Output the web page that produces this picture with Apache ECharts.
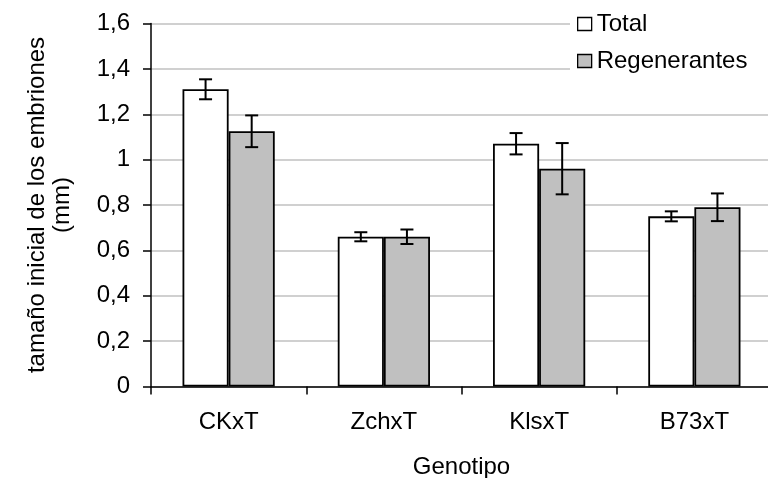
<!DOCTYPE html>
<html>
<head>
<meta charset="utf-8">
<script src="https://cdn.jsdelivr.net/npm/echarts@6/dist/echarts.min.js"></script>
<style>
  html, body { margin: 0; padding: 0; background: #fff; }
  #chart { width: 768px; height: 478px; }
</style>
</head>
<body>
<div id="chart"></div>
<script>
// Genotypes on the category axis
const genotipos = ['CKxT', 'ZchxT', 'KlsxT', 'B73xT'];

// Mean initial embryo size (mm)
const total = [1.31, 0.66, 1.07, 0.75];
const regenerantes = [1.125, 0.66, 0.96, 0.79];

// Error half-widths (mm)
const errTotal = [0.044, 0.02, 0.047, 0.022];
const errRegenerantes = [0.07, 0.032, 0.113, 0.061];

// Value axis tick labels
const yTicks = ['0', '0,2', '0,4', '0,6', '0,8', '1', '1,2', '1,4', '1,6'];

const FONT = 'Liberation Sans, Arial, sans-serif';
const FS = 24;
const GAP = 0.406; // share of a category left empty between groups

function errorSeries(values, errs, side) {
  return {
    type: 'custom',
    silent: true,
    z: 10,
    data: values.map((v, i) => [i, v - errs[i], v + errs[i]]),
    renderItem: function (params, api) {
      const idx = api.value(0);
      const lo = api.coord([idx, api.value(1)]);
      const hi = api.coord([idx, api.value(2)]);
      const catW = api.size([1, 0])[0];
      const barW = catW * (1 - GAP) / 2;
      const x = lo[0] + side * barW / 2;
      const cap = 6.5;
      const style = { stroke: '#000', lineWidth: 2, fill: null };
      return {
        type: 'group',
        children: [
          { type: 'line', shape: { x1: x, y1: hi[1], x2: x, y2: lo[1] }, style: style },
          { type: 'line', shape: { x1: x - cap, y1: hi[1], x2: x + cap, y2: hi[1] }, style: style },
          { type: 'line', shape: { x1: x - cap, y1: lo[1], x2: x + cap, y2: lo[1] }, style: style }
        ]
      };
    }
  };
}

const chart = echarts.init(document.getElementById('chart'));
chart.setOption({
  animation: false,
  backgroundColor: '#fff',
  textStyle: { fontFamily: FONT, color: '#000' },
  grid: {
    left: 151, right: -4, top: 23.5, bottom: 91.5,
    containLabel: false,
    outerBoundsMode: 'none'
  },
  legend: {
    orient: 'vertical',
    left: 570,
    top: 2,
    padding: [10, 40, 10, 7],
    backgroundColor: '#fff',
    itemWidth: 14,
    itemHeight: 13,
    itemGap: 13,
    icon: 'rect',
    data: ['Total', 'Regenerantes'],
    textStyle: { fontFamily: FONT, fontSize: FS, color: '#000' },
    itemStyle: { borderColor: '#000', borderWidth: 1.3 }
  },
  xAxis: {
    type: 'category',
    data: genotipos,
    name: 'Genotipo',
    nameLocation: 'middle',
    nameGap: 69,
    nameTextStyle: { fontFamily: FONT, fontSize: FS, color: '#000' },
    axisLine: { lineStyle: { color: '#000', width: 1.5 } },
    axisTick: { show: true, length: 8, alignWithLabel: false, lineStyle: { color: '#000', width: 1.5 } },
    axisLabel: { fontFamily: FONT, fontSize: FS, color: '#000', margin: 24 },
    splitLine: { show: false }
  },
  yAxis: {
    type: 'value',
    min: 0,
    max: 1.6,
    interval: 0.2,
    name: 'tamaño inicial de los embriones\n(mm)',
    nameLocation: 'middle',
    nameGap: 76,
    nameTextStyle: { fontFamily: FONT, fontSize: FS, color: '#000', lineHeight: 25 },
    axisLine: { show: true, lineStyle: { color: '#000', width: 1.5 } },
    axisTick: { show: true, length: 8, lineStyle: { color: '#000', width: 1.5 } },
    axisLabel: {
      fontFamily: FONT, fontSize: FS, color: '#000', margin: 21,
      formatter: function (v) { return yTicks[Math.round(v / 0.2)]; }
    },
    splitLine: { show: true, lineStyle: { color: '#c0c0c0', width: 1.5 } }
  },
  series: [
    {
      name: 'Total',
      type: 'bar',
      data: total,
      barGap: '0%',
      barCategoryGap: (GAP * 100) + '%',
      itemStyle: { color: '#ffffff', borderColor: '#000', borderWidth: 1.8 }
    },
    {
      name: 'Regenerantes',
      type: 'bar',
      data: regenerantes,
      barGap: '0%',
      barCategoryGap: (GAP * 100) + '%',
      itemStyle: { color: '#c0c0c0', borderColor: '#000', borderWidth: 1.8 }
    },
    errorSeries(total, errTotal, -1),
    errorSeries(regenerantes, errRegenerantes, 1)
  ]
});
</script>
</body>
</html>
